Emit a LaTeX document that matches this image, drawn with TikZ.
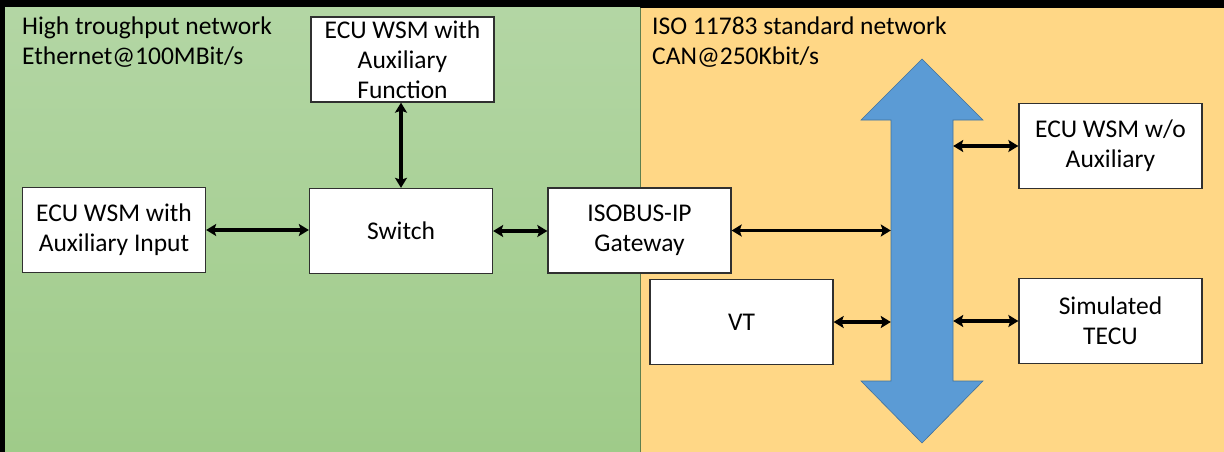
\documentclass[tikz,border=0pt]{standalone}
\usepackage{fontspec}
\setmainfont{Carlito}
\usetikzlibrary{arrows.meta}
\definecolor{greentop}{HTML}{B3D6A4}
\definecolor{greenbot}{HTML}{9FCB89}
\definecolor{greenedge}{HTML}{5E7F4E}
\definecolor{orangebg}{HTML}{FFD786}
\definecolor{busblue}{HTML}{5B9BD5}
\definecolor{busedge}{HTML}{41719C}
\definecolor{boxedge}{HTML}{303030}
\tikzset{
  unit/.style={draw=boxedge, line width=1.3pt, fill=white, minimum width=183pt,
    minimum height=85pt, align=center, font=\fontsize{25.5}{30}\selectfont, inner sep=0pt},
  link/.style={line width=3.6pt, {Stealth[length=10pt,width=12pt,inset=2pt]}-{Stealth[length=10pt,width=12pt,inset=2pt]}},
  netlabel/.style={anchor=north west, align=left, inner sep=0pt, font=\fontsize{25.5}{30}\selectfont}
}
\begin{document}
\begin{tikzpicture}[x=1pt,y=-1pt]
\useasboundingbox (0,0) rectangle (1224,452);
% frame
\fill[black] (0,0) rectangle (1224,8);
\fill[black] (0,0) rectangle (5,452);
% network areas
\shade[top color=greentop, bottom color=greenbot] (5,8) rectangle (640,452);
\fill[orangebg] (640,8) rectangle (1224,452);
\draw[greenedge, line width=0.8pt] (640,8) -- (640,452);
% area labels
\node[netlabel] (ethlbl) at (22,17) {High troughput network\\Ethernet@100MBit/s};
\node[netlabel] (canlbl) at (652,17) {ISO 11783 standard network\\CAN@250Kbit/s};
% CAN bus (double-headed block arrow)
\draw[busedge, fill=busblue, line width=0.6pt]
  (922,59) -- (983,120) -- (953,120) -- (953,381) -- (983,381) -- (922,443)
  -- (861,381) -- (891,381) -- (891,120) -- (861,120) -- cycle;
\node[minimum width=62pt, minimum height=261pt, inner sep=0pt] (bus) at (922,250.5) {};
% units
\node[unit] (auxfn) at (402.5,59.5) {ECU WSM with\\Auxiliary\\Function};
\node[unit] (auxin) at (114,230) {ECU WSM with\\Auxiliary Input};
\node[unit] (switch) at (401,231) {Switch};
\node[unit] (gw) at (639.5,230.5) {ISOBUS-IP\\Gateway};
\node[unit] (vt) at (741.5,322) {VT};
\node[unit] (noaux) at (1110.5,146) {ECU WSM w/o\\Auxiliary};
\node[unit] (tecu) at (1110.5,321) {Simulated\\TECU};
% links
\draw[link] (auxin.east) -- (switch.west |- auxin.east);
\draw[link] (switch.north) -- (auxfn.south -| switch.north);
\draw[link] (switch.east) -- (gw.west |- switch.east);
\draw[link] (gw.east) -- (bus.west |- gw.east);
\draw[link] (vt.east) -- (bus.west |- vt.east);
\draw[link] (bus.east |- noaux.west) -- (noaux.west);
\draw[link] (bus.east |- tecu.west) -- (tecu.west);
\end{tikzpicture}
\end{document}
